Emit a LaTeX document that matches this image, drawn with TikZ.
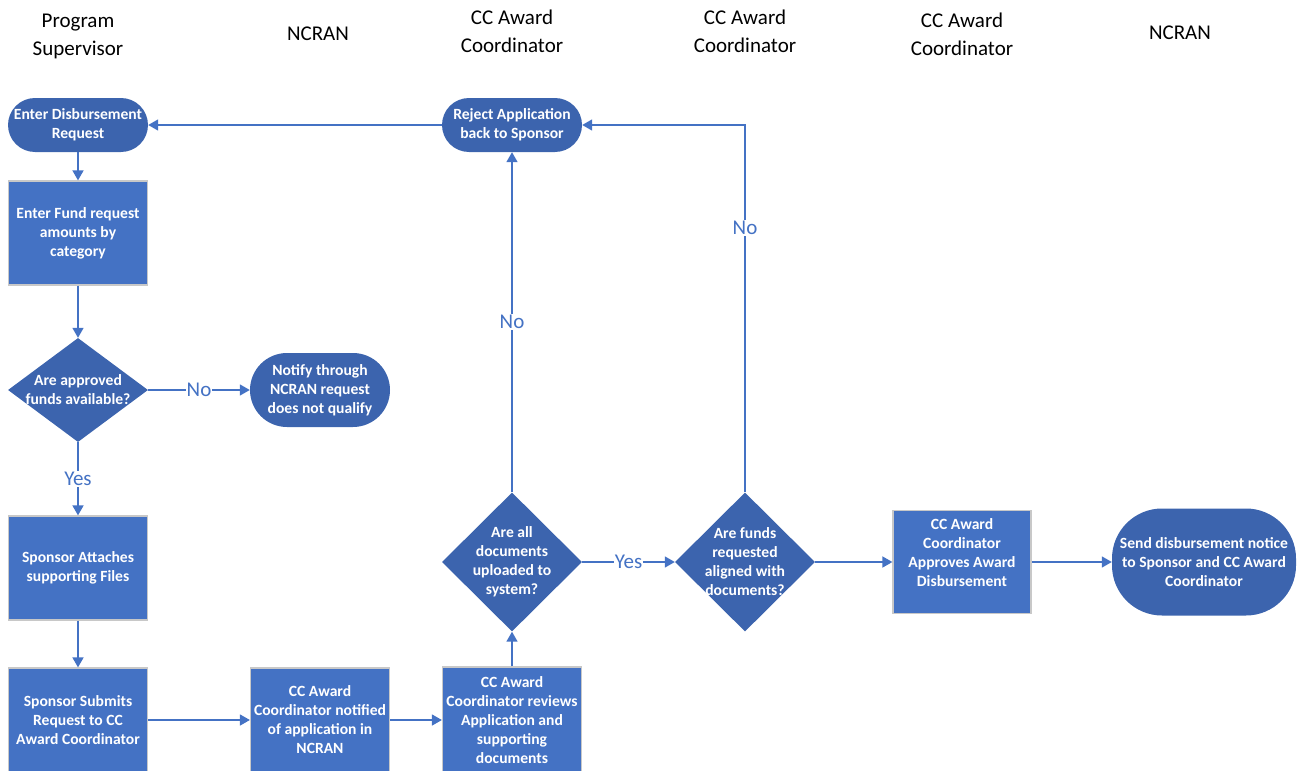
\documentclass[tikz,border=0pt]{standalone}
\usepackage{fontspec}
\setmainfont{Carlito}
\usepackage{xcolor}
\usetikzlibrary{shapes.geometric,arrows.meta}
\definecolor{boxblue}{HTML}{4472C4}
\definecolor{termblue}{HTML}{3C64AE}
\definecolor{boxedge}{HTML}{C8C8C8}

\begin{document}
\begin{tikzpicture}[x=1pt,y=-1pt,
	lane/.style={font=\fontsize{21}{28}\selectfont,align=center},
	txt/.style={text=white,font=\fontsize{15.6}{19}\selectfont\bfseries,align=center,inner sep=0pt},
	box/.style={txt,draw=boxedge,line width=1.2pt,fill=boxblue,minimum width=139pt,minimum height=104pt},
	term/.style={txt,fill=termblue,minimum width=140pt,minimum height=54pt,rounded corners=27pt},
	decision/.style={diamond,fill=termblue,inner sep=0pt,minimum width=140pt,minimum height=104pt},
	flow/.style={draw=boxblue,line width=1.5pt,-{Triangle[length=10pt,width=11pt]}},
	answer/.style={fill=white,text=boxblue,font=\fontsize{21}{24}\selectfont,inner sep=1pt}]
	\useasboundingbox (0,0) rectangle (1302,771);
	% lanes
	\node[lane] (lane1) at (78,36) {Program\\Supervisor};
	\node[lane] (lane2) at (318,34) {NCRAN};
	\node[lane] (lane3) at (512,31) {CC Award\\Coordinator};
	\node[lane] (lane4) at (745,31) {CC Award\\Coordinator};
	\node[lane] (lane5) at (962,34) {CC Award\\Coordinator};
	\node[lane] (lane6) at (1180,33) {NCRAN};
	% steps
	\node[term] (enter) at (78,125) {Enter Disbursement\\Request};
	\node[box] (fund) at (78,233) {Enter Fund request\\amounts by\\category};
	\node[decision] (avail) at (78,390) {};
	\node[txt] (availtxt) at (avail) {Are approved\\funds available?};
	\node[term,minimum height=74pt,rounded corners=37pt] (notify) at (320,390) {Notify through\\NCRAN request\\does not qualify};
	\node[box] (attach) at (78,568) {Sponsor Attaches\\supporting Files};
	\node[box] (submit) at (78,720) {Sponsor Submits\\Request to CC\\Award Coordinator};
	\node[box] (notified) at (320,720) {CC Award\\Coordinator notified\\of application in\\NCRAN};
	\node[box,minimum height=106pt] (review) at (512,720) {CC Award\\Coordinator reviews\\Application and\\supporting\\documents};
	\node[decision,minimum height=139pt] (docs) at (512,562) {};
	\node[txt] (docstxt) at (docs) {Are all\\documents\\uploaded to\\system?};
	\node[decision,minimum height=139pt] (align) at (745,562) {};
	\node[txt] (aligntxt) at (align) {Are funds\\requested\\aligned with\\documents?};
	\node[box,minimum width=138pt,minimum height=103pt] (approve) at (962,562) {CC Award\\Coordinator\\Approves Award\\Disbursement\\~};
	\node[term,minimum width=184pt,minimum height=107pt,rounded corners=50pt] (notice) at (1204,562) {Send disbursement notice\\to Sponsor and CC Award\\Coordinator};
	\node[term] (reject) at (512,125) {Reject Application\\back to Sponsor};
	% connectors
	\draw[flow] (enter) -- (fund);
	\draw[flow] (fund) -- (avail);
	\draw[flow] (avail) -- node[answer] {No} (notify);
	\draw[flow] (avail) -- node[answer] {Yes} (attach);
	\draw[flow] (attach) -- (submit);
	\draw[flow] (submit) -- (notified);
	\draw[flow] (notified) -- (review);
	\draw[flow] (review) -- (docs);
	\draw[flow] (docs) -- node[answer] {No} (reject);
	\draw[flow] (docs) -- node[answer] {Yes} (align);
	\draw[flow] (align.north) |- node[answer,pos=0.36] {No} (reject.east);
	\draw[flow] (align) -- (approve);
	\draw[flow] (approve) -- (notice);
	\draw[flow] (reject) -- (enter);
\end{tikzpicture}
\end{document}
